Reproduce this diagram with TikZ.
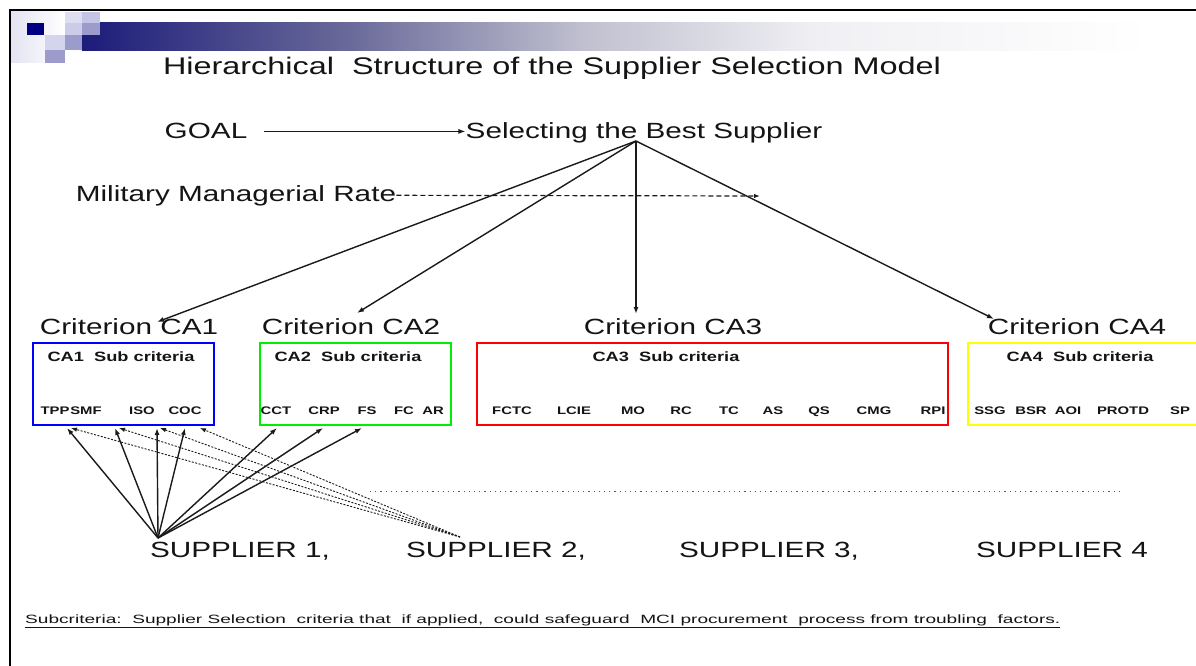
\documentclass[tikz,border=0pt]{standalone}
\usepackage{fontspec}
\usepackage{graphicx}
\setmainfont{Liberation Sans}[FakeStretch=1.35]
\newfontfamily\notefont{Liberation Sans}
\usetikzlibrary{arrows.meta}

\definecolor{ink}{HTML}{141414}
\definecolor{wire}{HTML}{1A1A1A}
\definecolor{navyA}{HTML}{000080}
\definecolor{barA}{HTML}{1C1C7A}
\definecolor{barB}{HTML}{6A6A9A}
\definecolor{barC}{HTML}{C0C0D0}
\definecolor{barD}{HTML}{F0F0F4}
\definecolor{sqA}{HTML}{DEDEF0}
\definecolor{sqB}{HTML}{C4C4E4}
\definecolor{sqC}{HTML}{CCCCE8}
\definecolor{sqD}{HTML}{9C9CCC}
\definecolor{sqE}{HTML}{D4D4EC}
\definecolor{fadeA}{HTML}{E4E4F2}
\definecolor{boxG}{HTML}{00EE00}
\definecolor{boxY}{HTML}{FFFF00}
\definecolor{dotc}{HTML}{5050A0}

\begin{document}
\begin{tikzpicture}[x=1pt,y=-1pt,
  txt/.style={inner sep=0pt, anchor=base, text=ink},
  big/.style={txt, font=\fontsize{22}{26}\selectfont},
  subttl/.style={txt, font=\fontsize{13.5}{16}\selectfont\bfseries},
  abbr/.style={txt, font=\fontsize{11}{14}\selectfont\bfseries},
  critbox/.style={draw, line width=1.5pt, minimum height=82pt, inner sep=0pt},
  arr/.style={draw=wire, line width=1.4pt, -{Latex[length=7pt,width=5pt]}},
  darr/.style={draw=wire, line width=0.9pt, dash pattern=on 2pt off 1.5pt, -{Latex[length=6pt,width=4.5pt]}},
  mmrline/.style={draw=wire, line width=1.2pt, dash pattern=on 5pt off 3pt, -{Latex[length=6pt,width=4.5pt]}},
  dotline/.style={draw=dotc, line width=1pt, dash pattern=on 1.2pt off 4pt}
]
\useasboundingbox (0,0) rectangle (1196,666);
\fill[white] (0,0) rectangle (1196,666);

% ---- header decoration ----
\shade[left color=fadeA, right color=white] (11,12) rectangle (66,63);
\shade[left color=barA, right color=barB] (82,23) rectangle (350.5,51);
\shade[left color=barB, right color=barC] (350,23) rectangle (583.5,51);
\shade[left color=barC, right color=barD] (583,23) rectangle (817.5,51);
\shade[left color=barD, right color=white] (817,23) rectangle (1150,51);
\fill[navyA] (27,23) rectangle (44,35);
\fill[sqA] (65,12) rectangle (82,23);
\fill[sqB] (82,12) rectangle (100,23);
\fill[sqC] (65,23) rectangle (82,35);
\fill[sqD] (82,23) rectangle (100,35);
\fill[sqE] (45,35) rectangle (65,50);
\fill[sqD] (65,35) rectangle (82,50);
\fill[sqD] (45,50) rectangle (65,63);

% ---- frame ----
\draw[line width=2pt, black] (10,666) -- (10,10) -- (1196,10);

% ---- title ----
\node[txt, font=\fontsize{24}{28}\selectfont] (title) at (552,75)
  {Hierarchical\ \ Structure of the Supplier Selection Model};

% ---- goal level ----
\node[big] (goal) at (206,139) {GOAL};
\node[big] (best) at (644,139) {Selecting the Best Supplier};
\draw[arr, line width=1.2pt, shorten <=17pt] (goal.east) -- (goal.east -| best.west);

\node[big] (mmr) at (236,201) {Military Managerial Rate};
\coordinate (mmrend) at (760,196);
\draw[mmrline] (mmr.east) -- (mmrend);

% ---- criteria ----
\coordinate (apex) at (636,141);
\node[big] (c1) at (129,334) {Criterion CA1};
\node[big] (c2) at (351,334) {Criterion CA2};
\node[big] (c3) at (673,334) {Criterion CA3};
\node[big] (c4) at (1077,334) {Criterion CA4};
\coordinate (c1tip) at (157,322);
\coordinate (c2tip) at (357,313);
\coordinate (c3tip) at (636,314);
\coordinate (c4tip) at (994,319);
\draw[arr] (apex) -- (c1tip);
\draw[arr] (apex) -- (c2tip);
\draw[arr] (apex) -- (c3tip);
\draw[arr] (apex) -- (c4tip);

% ---- sub-criteria boxes ----
\node[critbox, draw=blue, minimum width=181pt] (b1) at (123.5,384) {};
\node[critbox, draw=boxG, minimum width=191pt] (b2) at (355.5,384) {};
\node[critbox, draw=red, minimum width=471pt] (b3) at (712.5,384) {};
\node[critbox, draw=boxY, minimum width=232pt] (b4) at (1084,384) {};

\node[subttl] (st1) at (121,361) {CA1\ \ Sub criteria};
\node[subttl] (st2) at (348,361) {CA2\ \ Sub criteria};
\node[subttl] (st3) at (666,361) {CA3\ \ Sub criteria};
\node[subttl] (st4) at (1080,361) {CA4\ \ Sub criteria};

% CA1 items
\node[abbr] (tpp) at (55,414) {TPP};
\node[abbr] (smf) at (86,414) {SMF};
\node[abbr] (iso) at (142,414) {ISO};
\node[abbr] (coc) at (185,414) {COC};
% CA2 items
\node[abbr] (cct) at (276,414) {CCT};
\node[abbr] (crp) at (324,414) {CRP};
\node[abbr] (fs)  at (367,414) {FS};
\node[abbr] (fc)  at (404,414) {FC};
\node[abbr] (ar)  at (433,414) {AR};
% CA3 items
\node[abbr] (fctc) at (512,414) {FCTC};
\node[abbr] (lcie) at (574,414) {LCIE};
\node[abbr] (mo)   at (633,414) {MO};
\node[abbr] (rc)   at (681,414) {RC};
\node[abbr] (tc)   at (729,414) {TC};
\node[abbr] (as)   at (773,414) {AS};
\node[abbr] (qs)   at (819,414) {QS};
\node[abbr] (cmg)  at (874,414) {CMG};
\node[abbr] (rpi)  at (933,414) {RPI};
% CA4 items
\node[abbr] (ssg)   at (990,414) {SSG};
\node[abbr] (bsr)   at (1031,414) {BSR};
\node[abbr] (aoi)   at (1068,414) {AOI};
\node[abbr] (protd) at (1123,414) {PROTD};
\node[abbr] (sp)    at (1180,414) {SP};

% ---- suppliers ----
\node[big] (sup1) at (240,557) {SUPPLIER 1,};
\node[big] (sup2) at (496,557) {SUPPLIER 2,};
\node[big] (sup3) at (769,557) {SUPPLIER 3,};
\node[big] (sup4) at (1062,557) {SUPPLIER 4};

\coordinate (s1) at (158,538);
\coordinate (s2) at (460,537);
\coordinate (t1) at (67,428);
\coordinate (t2) at (115,428);
\coordinate (t3) at (157,428);
\coordinate (t4) at (185,428);
\coordinate (t5) at (200,428);
\coordinate (u1) at (277,428);
\coordinate (u2) at (323,428);
\coordinate (u3) at (362,428);

\foreach \p in {t1,t2,t3,t4,u1,u2,u3}
  \draw[arr] (s1) -- (\p);
\draw[darr] (s2) -- ([xshift=4pt]t1);
\draw[darr] (s2) -- ([xshift=4pt]t2);
\draw[darr] (s2) -- ([xshift=3pt]t3);
\draw[darr] (s2) -- (t5);

% ---- dotted separator ----
\coordinate (dl) at (370,491);
\coordinate (dr) at (1122,491);
\draw[dotline] (dl) -- (dr);

% ---- footnote ----
\node[txt, anchor=base west] (note) at (25,623)
  {\resizebox{1035pt}{\height}{\notefont\fontsize{12}{14}\selectfont\underline{Subcriteria:\ \ Supplier Selection\ \ criteria that\ \ if applied,\ \ could safeguard\ \ MCI procurement\ \ process from troubling\ \ factors.}}};
\end{tikzpicture}
\end{document}
